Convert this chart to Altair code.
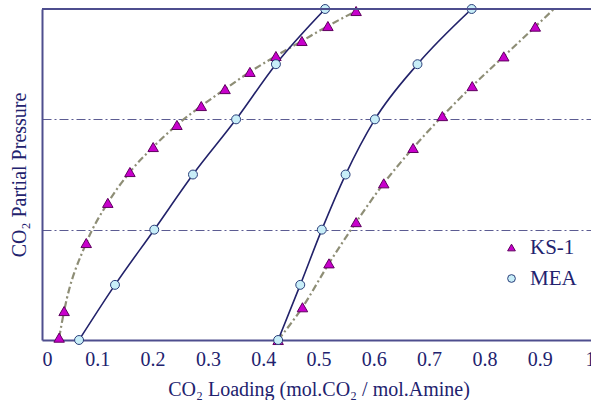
import altair as alt
import pandas as pd

# ---- data ----
ks1_low_x = [0.031, 0.040, 0.080, 0.119, 0.159, 0.201, 0.244, 0.288, 0.331, 0.376, 0.423, 0.470, 0.517, 0.568]
ks1_low_p = [1.05, 1.83, 7.57, 17.5, 33.3, 56.1, 88.9, 132, 188, 269, 375, 513, 701, 959]
ks1_high_x = [0.427, 0.471, 0.519, 0.568, 0.618, 0.671, 0.724, 0.778, 0.835, 0.892, 0.949]
ks1_high_p = [1.0, 1.98, 4.95, 11.7, 26.3, 55.0, 107, 200, 372, 692, 1288]
mea_low_x = [0.067, 0.132, 0.203, 0.273, 0.351, 0.423, 0.512]
mea_high_x = [0.427, 0.467, 0.506, 0.549, 0.602, 0.679, 0.777]
mea_p = [1.0, 3.16, 10, 31.6, 100, 316, 1000]
x_ticks = [0, 0.1, 0.2, 0.3, 0.4, 0.5, 0.6, 0.7, 0.8, 0.9, 1.0]
grid_p = [10, 100]
series_names = ["KS-1", "MEA"]

rows = []
for curve, name, xs, ps in [
    ("ks1_low", "KS-1", ks1_low_x, ks1_low_p),
    ("ks1_high", "KS-1", ks1_high_x, ks1_high_p),
    ("mea_low", "MEA", mea_low_x, mea_p),
    ("mea_high", "MEA", mea_high_x, mea_p),
]:
    for i, (x, p) in enumerate(zip(xs, ps)):
        rows.append({"loading": x, "pressure": p, "series": name, "curve": curve, "order": i})
df = pd.DataFrame(rows)

TEXT = "#22226e"
AXIS = "#4e4e8e"
FONT = "Liberation Serif"
W, H = 549, 331

xscale = alt.Scale(domain=[0, 1], range=[0, 553], nice=False, zero=False)
yscale = alt.Scale(type="log", domain=[1, 1000], nice=False)

xaxis = alt.Axis(values=x_ticks, format=".1~f", ticks=False, tickSize=0, grid=False,
                 labelFont=FONT, labelFontSize=20, labelColor=TEXT, labelPadding=9,
                 domainColor=AXIS, domainWidth=2,
                 title="CO\u2082 Loading (mol.CO\u2082 / mol.Amine)", titleFont=FONT,
                 titleFontSize=20, titleFontWeight="normal", titleColor=TEXT, titlePadding=10)
yaxis = alt.Axis(values=grid_p, labels=False, ticks=False, tickSize=0, grid=True,
                 gridColor="#5c5c92", gridWidth=1.2, gridDash=[9, 3, 2, 3],
                 domainColor=AXIS, domainWidth=2,
                 title="CO\u2082 Partial Pressure", titleFont=FONT, titleFontSize=20,
                 titleFontWeight="normal", titleColor=TEXT, titlePadding=13)

legend = alt.Legend(title=None, orient="none", legendX=459, legendY=228, labelFont=FONT)

shape_enc = alt.Shape("series:N", scale=alt.Scale(domain=series_names, range=["triangle-up", "circle"]),
                      legend=legend)
fill_enc = alt.Fill("series:N", scale=alt.Scale(domain=series_names, range=["#c800cc", "#c8eef8"]),
                    legend=legend)
stroke_enc = alt.Stroke("series:N", scale=alt.Scale(domain=series_names, range=["#5e005e", "#2a3f7a"]),
                        legend=legend)

base = alt.Chart(df)
xenc = alt.X("loading:Q", scale=xscale, axis=xaxis)
yenc = alt.Y("pressure:Q", scale=yscale, axis=yaxis)

ks1_lines = base.transform_filter(alt.datum.series == "KS-1").mark_line(
    clip=True, interpolate="monotone", color="#8e8e76", strokeWidth=2.2, strokeDash=[7, 3, 2, 3]
).encode(x=xenc, y=yenc, detail="curve:N", order="order:Q")

mea_lines = base.transform_filter(alt.datum.series == "MEA").mark_line(
    clip=True, interpolate="monotone", color="#22226a", strokeWidth=1.6
).encode(x=xenc, y=yenc, detail="curve:N", order="order:Q")

ks1_points = base.transform_filter(
    (alt.datum.series == "KS-1") & (alt.datum.pressure <= 1000)
).mark_point(filled=True, opacity=1, strokeWidth=1, size=110).encode(
    x=xenc, y=yenc, shape=shape_enc, fill=fill_enc, stroke=stroke_enc
)

mea_points = base.transform_filter(alt.datum.series == "MEA").mark_point(
    filled=True, opacity=1, strokeWidth=1, size=80
).encode(x=xenc, y=yenc, shape=shape_enc, fill=fill_enc, stroke=stroke_enc)

top_border = alt.Chart(df).mark_rule(color=AXIS, strokeWidth=2).encode(
    x=alt.value(0), x2=alt.value(W), y=alt.value(0)
)

chart = alt.layer(ks1_lines, mea_lines, ks1_points, mea_points, top_border).properties(
    width=W, height=H,
    background="white",
    autosize=alt.AutoSizeParams(type="none"),
    padding={"left": 42, "top": 9, "right": 0, "bottom": 60},
).configure(font=FONT).configure_view(stroke=None).configure_legend(
    padding=0, labelFont=FONT, labelFontSize=21, labelColor=TEXT, labelOffset=8,
    symbolSize=60, symbolStrokeWidth=1, rowPadding=9, labelLimit=200,
)

chart.save("out.html", embed_options={"renderer": "svg", "actions": False})
